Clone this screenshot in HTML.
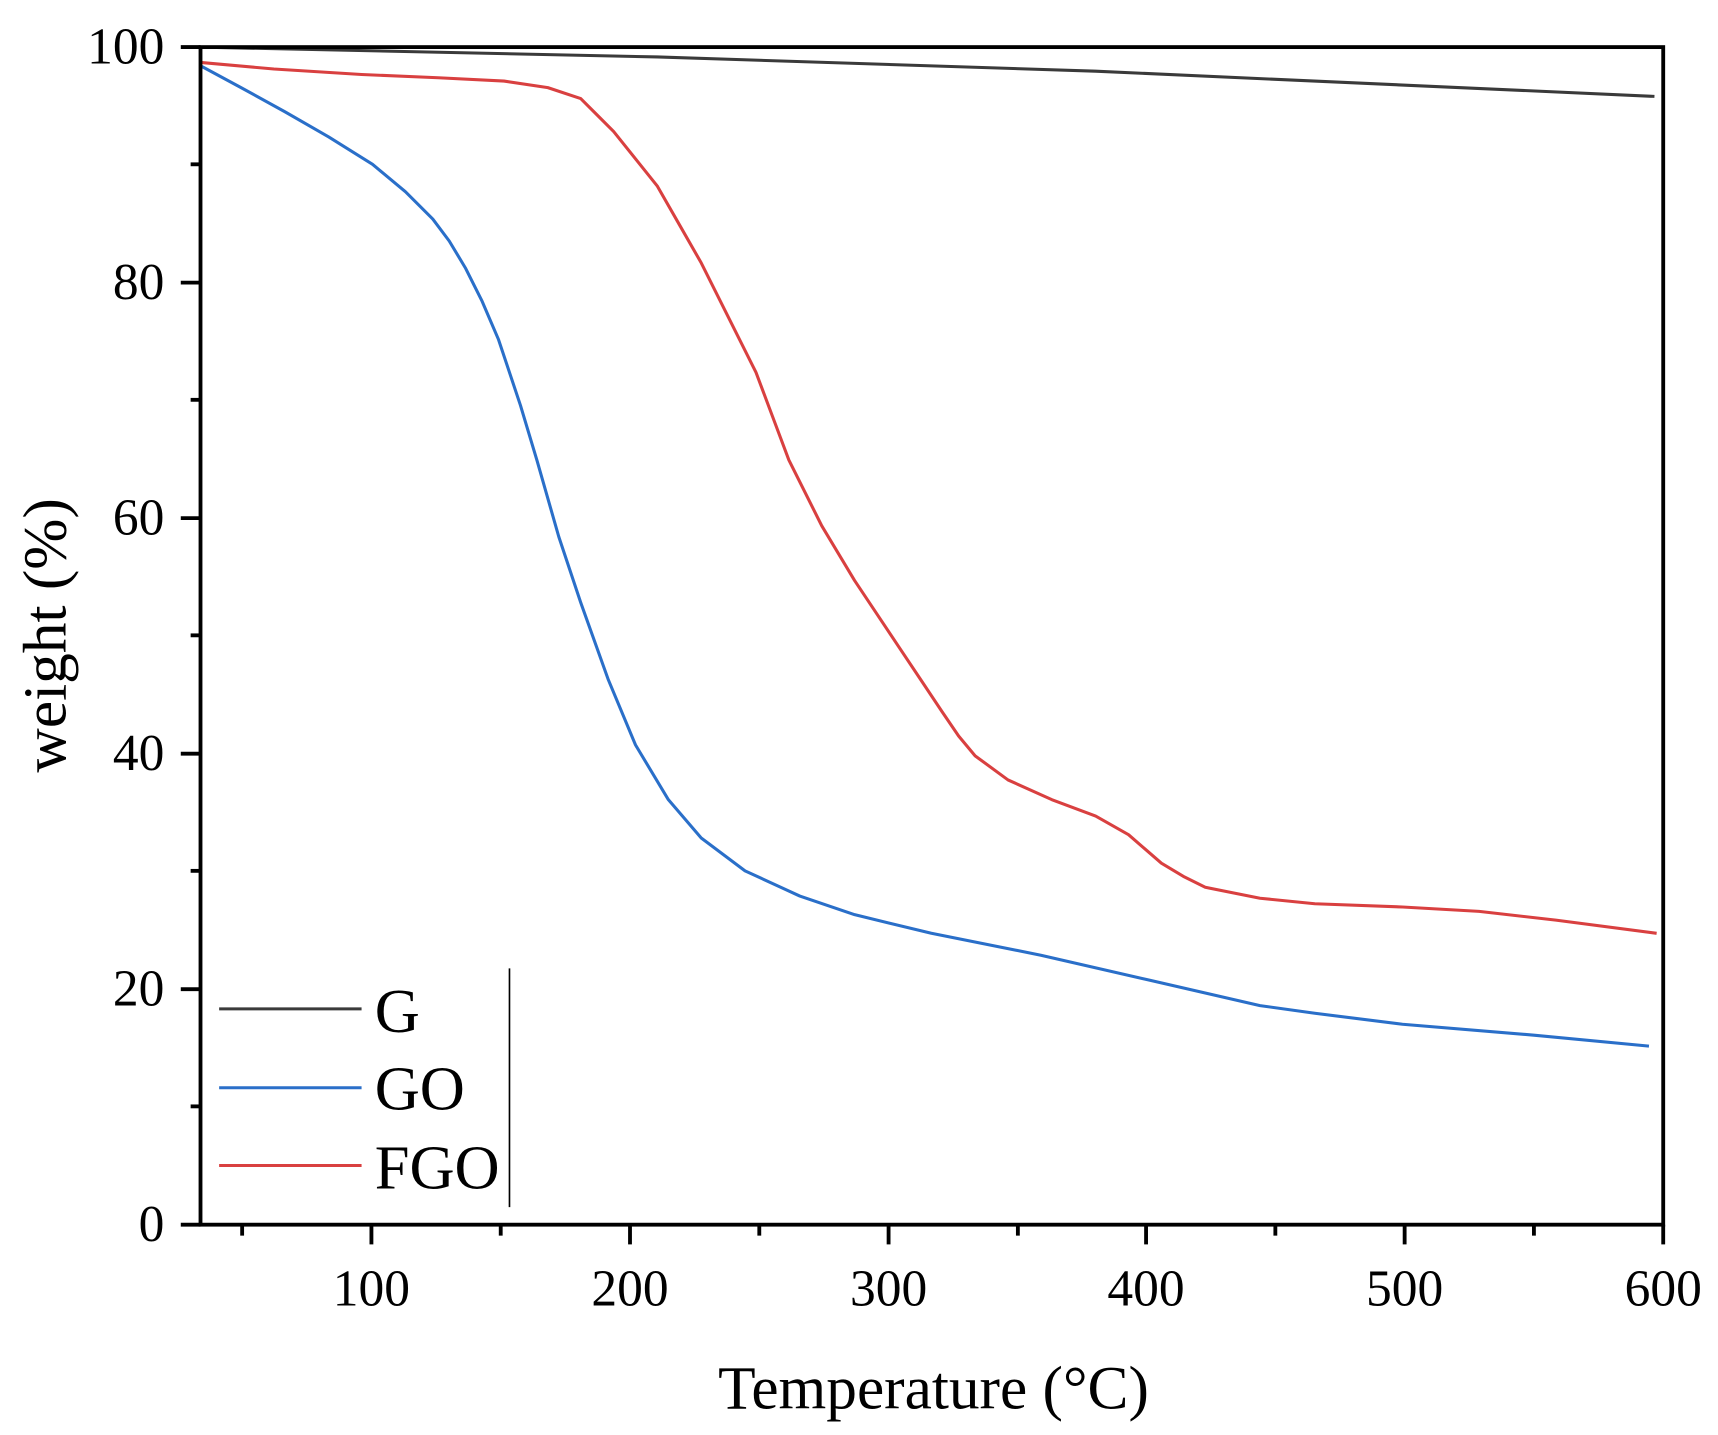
<!DOCTYPE html>
<html><head><meta charset="utf-8"><style>
html,body{margin:0;padding:0;background:#fff;}
svg{display:block;}
text{font-family:"Liberation Serif",serif;fill:#000;}
</style></head><body>
<svg width="1718" height="1435" viewBox="0 0 1568 1310" preserveAspectRatio="none" xmlns="http://www.w3.org/2000/svg">
<rect width="1568" height="1310" fill="#fff"/>
<polyline fill="none" stroke="#3a3a3a" stroke-width="2.8" points="183,43 600,52 1000,65 1510,88"/>
<polyline fill="none" stroke="#2a6fc9" stroke-width="2.8" stroke-linejoin="round" points="183,60 220,80 260,102 300,125 340,150 370,175 395,200 410,220 425,245 440,275 455,310 465,340 475,370 490,420 510,490 530,550 555,620 580,680 610,730 640,765 680,795 730,818 780,835 850,852 950,872 1050,895 1150,918 1200,925 1280,935 1400,945 1505,955"/>
<polyline fill="none" stroke="#d94040" stroke-width="2.8" stroke-linejoin="round" points="183,57 250,63 330,68 400,71 460,74 500,80 530,90 545,105 560,120 580,145 600,170 620,205 640,240 665,290 690,340 705,380 720,420 750,480 780,530 800,560 820,590 840,620 860,650 875,672 890,690 920,712 960,730 1000,745 1030,762 1045,775 1060,788 1080,800 1100,810 1150,820 1200,825 1280,828 1350,832 1420,840 1512,852"/>
<rect x="183" y="43" width="1335" height="1075" fill="none" stroke="#000" stroke-width="3.5"/>
<g stroke="#000" stroke-width="3.5">
<line x1="165" y1="1118" x2="183" y2="1118"/><line x1="165" y1="903" x2="183" y2="903"/><line x1="165" y1="688" x2="183" y2="688"/><line x1="165" y1="473" x2="183" y2="473"/><line x1="165" y1="258" x2="183" y2="258"/><line x1="165" y1="43" x2="183" y2="43"/>
<line x1="174" y1="1010" x2="183" y2="1010"/><line x1="174" y1="795" x2="183" y2="795"/><line x1="174" y1="580" x2="183" y2="580"/><line x1="174" y1="365" x2="183" y2="365"/><line x1="174" y1="150" x2="183" y2="150"/>
<line x1="339" y1="1118" x2="339" y2="1136"/><line x1="575" y1="1118" x2="575" y2="1136"/><line x1="811" y1="1118" x2="811" y2="1136"/><line x1="1046" y1="1118" x2="1046" y2="1136"/><line x1="1282" y1="1118" x2="1282" y2="1136"/><line x1="1518" y1="1118" x2="1518" y2="1136"/>
<line x1="221" y1="1118" x2="221" y2="1128"/><line x1="457" y1="1118" x2="457" y2="1128"/><line x1="693" y1="1118" x2="693" y2="1128"/><line x1="929" y1="1118" x2="929" y2="1128"/><line x1="1164" y1="1118" x2="1164" y2="1128"/><line x1="1400" y1="1118" x2="1400" y2="1128"/>
</g>
<g font-size="47" text-anchor="end">
<text x="150" y="1133">0</text><text x="150" y="918">20</text><text x="150" y="703">40</text><text x="150" y="488">60</text><text x="150" y="273">80</text><text x="150" y="58">100</text>
</g>
<g font-size="47" text-anchor="middle">
<text x="339" y="1192">100</text><text x="575" y="1192">200</text><text x="811" y="1192">300</text><text x="1046" y="1192">400</text><text x="1282" y="1192">500</text><text x="1518" y="1192">600</text>
</g>
<text x="852" y="1286" font-size="56" text-anchor="middle">Temperature (°C)</text>
<text transform="translate(60,580) rotate(-90)" font-size="56" text-anchor="middle">weight (%)</text>
<line x1="465" y1="884" x2="465" y2="1102" stroke="#000" stroke-width="1.5"/>
<line x1="200" y1="921" x2="330" y2="921" stroke="#3a3a3a" stroke-width="2.8"/>
<line x1="200" y1="993" x2="330" y2="993" stroke="#2a6fc9" stroke-width="2.8"/>
<line x1="200" y1="1064" x2="330" y2="1064" stroke="#d94040" stroke-width="2.8"/>
<g font-size="57">
<text x="342" y="942">G</text><text x="342" y="1013">GO</text><text x="342" y="1085">FGO</text>
</g>
</svg>
</body></html>
